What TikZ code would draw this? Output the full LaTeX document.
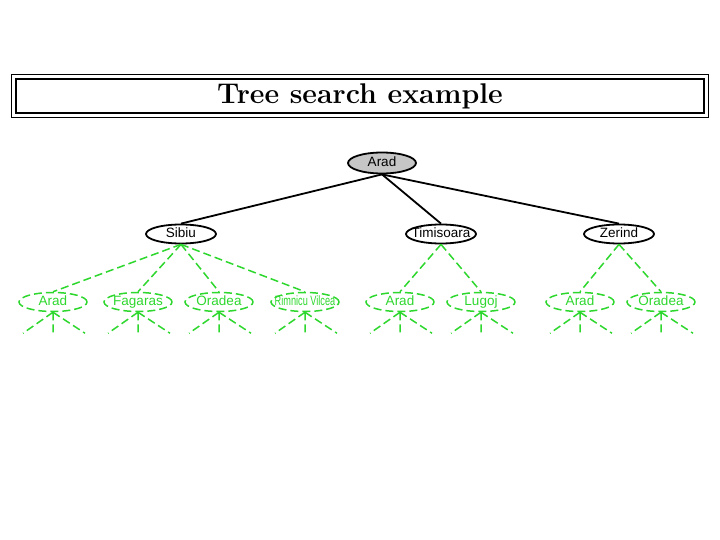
\documentclass[tikz,border=0pt]{standalone}
\usepackage{fontspec}
\usepackage{graphicx}
\newfontfamily\cityfont{Liberation Sans}
\usetikzlibrary{shapes.geometric}
\definecolor{leafgreen}{RGB}{45,215,45}

\begin{document}
\begin{tikzpicture}[x=1pt, y=-1pt,
        city/.style={ellipse, draw=black, line width=1.8pt, minimum width=70pt, minimum height=19pt, inner ysep=0pt, inner xsep=-10pt, text height=9.5pt, text depth=2.5pt, font=\cityfont\fontsize{13.5}{15}\selectfont},
        rootcity/.style={city, fill=gray!45, minimum width=68pt, minimum height=21pt},
        leafcity/.style={city, draw=leafgreen, text=leafgreen, dash pattern=on 8pt off 4pt, line width=1.5pt, minimum width=68pt},
        branch/.style={draw=black, line width=1.8pt},
        leafbranch/.style={draw=leafgreen, line width=1.5pt, dash pattern=on 8pt off 4pt}
    ]
        \useasboundingbox (0,0) rectangle (720,540);

        % Title
        \node [draw, line width=1.8pt, minimum width=688pt, minimum height=34pt, inner sep=0pt, font=\fontsize{28.5}{32}\selectfont\bfseries] (title) at (360,96) {Tree search example};
        \draw [line width=0.9pt] ([shift={(-4,-4)}]title.north west) rectangle ([shift={(4,4)}]title.south east);

        % Nodes
        \node [rootcity] (arad) at (382,163) {Arad};
        \node [city] (sibiu) at (181,234) {Sibiu};
        \node [city] (timisoara) at (441,234) {Timisoara};
        \node [city] (zerind) at (619,234) {Zerind};

        \node [leafcity] (sarad) at (53,302) {Arad};
        \node [leafcity] (fagaras) at (138,302) {Fagaras};
        \node [leafcity] (soradea) at (219,302) {Oradea};
        \node [leafcity] (rimnicu) at (305,302) {\scalebox{0.68}[1]{Rimnicu Vilcea}};
        \node [leafcity] (tarad) at (400,302) {Arad};
        \node [leafcity] (lugoj) at (481,302) {Lugoj};
        \node [leafcity] (zarad) at (580,302) {Arad};
        \node [leafcity] (zoradea) at (661,302) {Oradea};

        % Connectors
        \foreach \c in {sibiu, timisoara, zerind}
            \draw [branch] (arad.south) -- (\c.north);
        \foreach \c in {sarad, fagaras, soradea, rimnicu}
            \draw [leafbranch] (sibiu.south) -- (\c.north);
        \foreach \c in {tarad, lugoj}
            \draw [leafbranch] (timisoara.south) -- (\c.north);
        \foreach \c in {zarad, zoradea}
            \draw [leafbranch] (zerind.south) -- (\c.north);

        % Unexpanded stubs
        \foreach \c in {sarad, fagaras, soradea, rimnicu, tarad, lugoj, zarad, zoradea}
            \draw [leafbranch] (\c.south) -- ++(-30,21) (\c.south) -- ++(0,21) (\c.south) -- ++(32,21);
    \end{tikzpicture}
\end{document}
